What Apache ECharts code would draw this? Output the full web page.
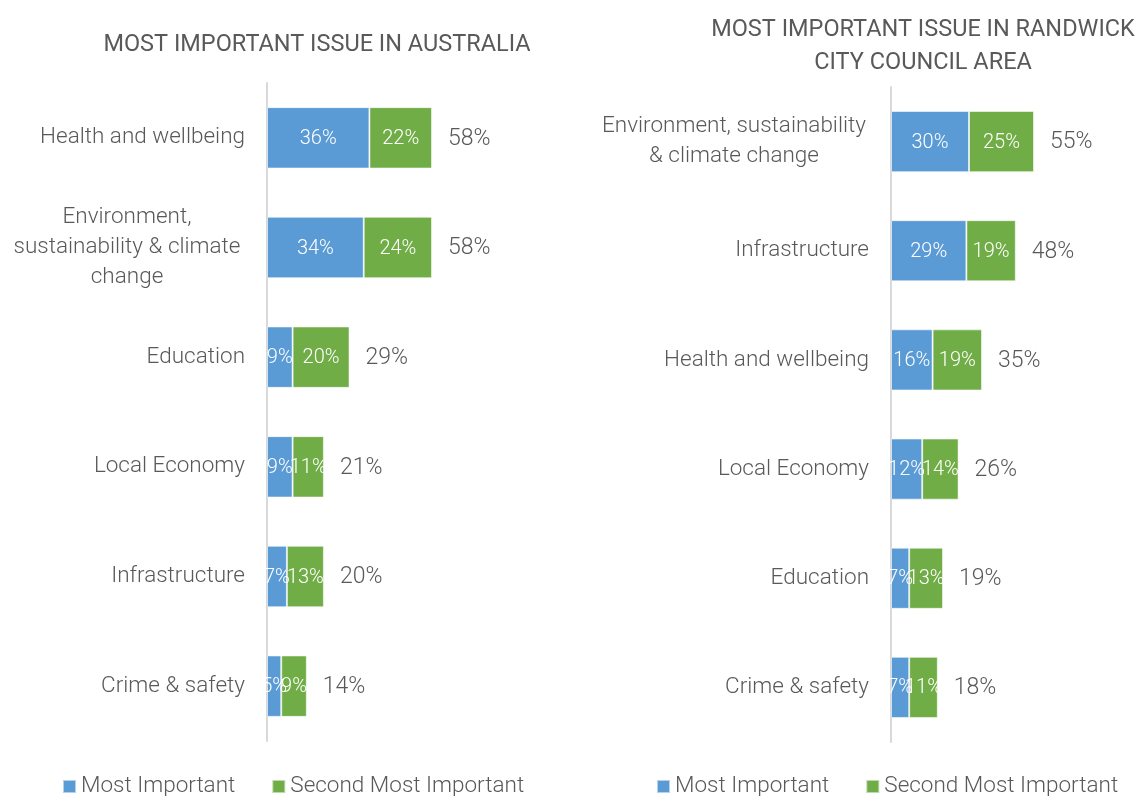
<!DOCTYPE html>
<html><head><meta charset="utf-8">
<script src="https://cdn.jsdelivr.net/npm/echarts@6/dist/echarts.min.js"></script>
<style>html,body{margin:0;padding:0;background:#fff}#c{width:1136px;height:796px}</style>
</head><body><div id="c"></div>
<script>
var seriesNames = ['Most Important', 'Second Most Important'];
var ausCategories = ['Health and wellbeing', 'Environment,\nsustainability & climate\nchange', 'Education', 'Local Economy', 'Infrastructure', 'Crime & safety'];
var ausMost = [36, 34, 9, 9, 7, 5];
var ausSecond = [22, 24, 20, 11, 13, 9];
var ausTotal = [58, 58, 29, 21, 20, 14];
var rcCategories = ['Environment, sustainability\n& climate change', 'Infrastructure', 'Health and wellbeing', 'Local Economy', 'Education', 'Crime & safety'];
var rcMost = [30, 29, 16, 12, 7, 7];
var rcSecond = [25, 19, 19, 14, 13, 11];
var rcTotal = [55, 48, 35, 26, 19, 18];

var FONT = 'Roboto';
var GREY = '#595959';
var BLUE = '#5B9BD5', GREEN = '#70AD47';

function segSeries(name, data, idx, color) {
  return {
    name: name, type: 'bar', stack: 's' + idx, xAxisIndex: idx, yAxisIndex: idx,
    data: data, barWidth: '56%',
    itemStyle: { color: color, borderColor: 'rgba(255,255,255,0.55)', borderWidth: 1 },
    label: { show: true, position: 'inside', offset: [0, 1], color: '#fff', fontFamily: FONT, fontWeight: 300, fontSize: 20, formatter: '{c}%' }
  };
}
function totalSeries(totals, idx) {
  return {
    name: 'Total', type: 'bar', stack: 's' + idx, xAxisIndex: idx, yAxisIndex: idx,
    data: totals.map(function () { return 0; }), barWidth: '56%',
    itemStyle: { color: 'transparent' }, silent: true,
    label: { show: true, position: 'right', distance: 16, offset: [0, 1], color: GREY, fontFamily: FONT, fontWeight: 300, fontSize: 23,
      formatter: function (p) { return totals[p.dataIndex] + '%'; } }
  };
}
function yAx(cats, idx, blockW) {
  return {
    type: 'category', gridIndex: idx, data: cats, inverse: true,
    axisLine: { show: true, lineStyle: { color: '#D9D9D9', width: 2 } },
    axisTick: { show: false },
    axisLabel: { color: GREY, fontFamily: FONT, fontWeight: 300, fontSize: 22.5, lineHeight: 30, margin: 22, align: 'right',
      formatter: function (v) { return v.indexOf('\n') >= 0 ? '{m|' + v + '}' : v; },
      rich: { m: { width: blockW, align: 'center', color: GREY, fontFamily: FONT, fontWeight: 300, fontSize: 22.5, lineHeight: 30 } } }
  };
}
function xAx(idx, max) {
  return { type: 'value', gridIndex: idx, min: 0, max: max, show: false, splitLine: { show: false } };
}
var legendText = { color: GREY, fontFamily: FONT, fontWeight: 300, fontSize: 22.5 };

var chart = echarts.init(document.getElementById('c'));
chart.setOption({
  animation: false,
  textStyle: { fontFamily: FONT },
  title: [
    { text: 'MOST IMPORTANT ISSUE IN AUSTRALIA', left: 312, top: 28, textAlign: 'center',
      textStyle: { color: GREY, fontFamily: FONT, fontWeight: 400, fontSize: 23.5 } },
    { text: 'MOST IMPORTANT ISSUE IN RANDWICK\nCITY COUNCIL AREA', left: 918, top: 9, textAlign: 'center',
      textStyle: { color: GREY, fontFamily: FONT, fontWeight: 400, fontSize: 23.5, lineHeight: 33 } }
  ],
  legend: [
    { data: seriesNames, left: 57, top: 770, itemWidth: 13, itemHeight: 13, itemGap: 36, icon: 'rect', textStyle: legendText, selectedMode: false },
    { data: seriesNames, left: 651, top: 770, itemWidth: 13, itemHeight: 13, itemGap: 36, icon: 'rect', textStyle: legendText, selectedMode: false }
  ],
  grid: [
    { left: 267, top: 83, height: 658, width: 284.5 },
    { left: 891, top: 87, height: 655, width: 208 }
  ],
  xAxis: [xAx(0, 100), xAx(1, 80)],
  yAxis: [yAx(ausCategories, 0, 236), yAx(rcCategories, 1, 270)],
  series: [
    segSeries(seriesNames[0], ausMost, 0, BLUE),
    segSeries(seriesNames[1], ausSecond, 0, GREEN),
    totalSeries(ausTotal, 0),
    segSeries(seriesNames[0], rcMost, 1, BLUE),
    segSeries(seriesNames[1], rcSecond, 1, GREEN),
    totalSeries(rcTotal, 1)
  ]
});
</script></body></html>
